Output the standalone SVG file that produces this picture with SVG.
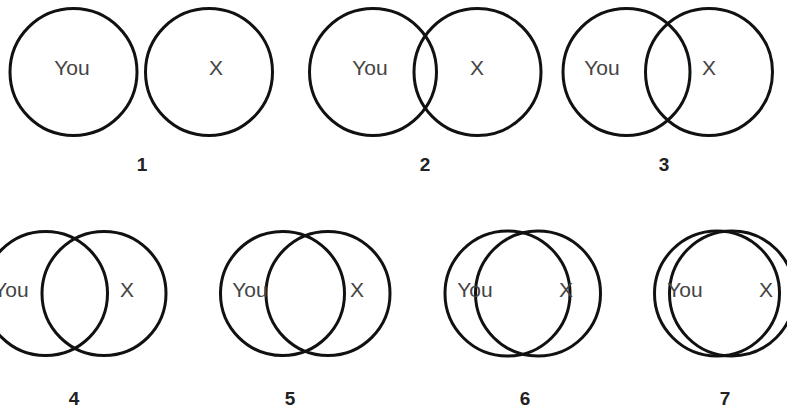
<svg xmlns="http://www.w3.org/2000/svg" width="787" height="413" viewBox="0 0 787 413">
<style>
.c{fill:none;stroke:#111;stroke-width:3}
.t{font-family:"Liberation Sans",Arial,sans-serif;font-size:21px;fill:#444;text-anchor:middle}
.n{font-family:"Liberation Sans",Arial,sans-serif;font-size:19px;font-weight:bold;fill:#222;text-anchor:middle}
</style>
<rect width="787" height="413" fill="#fff"/>
<g id="g1">
<circle class="c" cx="73.5" cy="72" r="63.5"/>
<circle class="c" cx="209" cy="72" r="63.5"/>
<text class="t" x="72" y="75">You</text>
<text class="t" x="216" y="75">X</text>
<text class="n" x="142" y="171">1</text>
</g>
<g id="g2">
<circle class="c" cx="373" cy="72" r="63.5"/>
<circle class="c" cx="477.5" cy="72" r="63.5"/>
<text class="t" x="370" y="75">You</text>
<text class="t" x="477" y="75">X</text>
<text class="n" x="425" y="171">2</text>
</g>
<g id="g3">
<circle class="c" cx="626.5" cy="72" r="63.5"/>
<circle class="c" cx="709" cy="72" r="63.5"/>
<text class="t" x="602" y="75">You</text>
<text class="t" x="709" y="75">X</text>
<text class="n" x="664" y="171">3</text>
</g>
<g id="g4">
<circle class="c" cx="45.5" cy="293.5" r="62"/>
<circle class="c" cx="104" cy="293.5" r="62"/>
<text class="t" x="11" y="297">You</text>
<text class="t" x="127" y="297">X</text>
<text class="n" x="74" y="405">4</text>
</g>
<g id="g5">
<circle class="c" cx="282.5" cy="293.5" r="62"/>
<circle class="c" cx="328" cy="293.5" r="62"/>
<text class="t" x="250" y="297">You</text>
<text class="t" x="357" y="297">X</text>
<text class="n" x="290" y="405">5</text>
</g>
<g id="g6">
<circle class="c" cx="507.5" cy="293.5" r="62.5"/>
<circle class="c" cx="538" cy="293.5" r="62.5"/>
<text class="t" x="475" y="297">You</text>
<text class="t" x="566" y="297">X</text>
<text class="n" x="525" y="405">6</text>
</g>
<g id="g7">
<circle class="c" cx="717" cy="293.5" r="62.5"/>
<circle class="c" cx="732" cy="293.5" r="62.5"/>
<text class="t" x="685" y="297">You</text>
<text class="t" x="766" y="297">X</text>
<text class="n" x="725" y="405">7</text>
</g>
<g id="connectors"/>
</svg>
